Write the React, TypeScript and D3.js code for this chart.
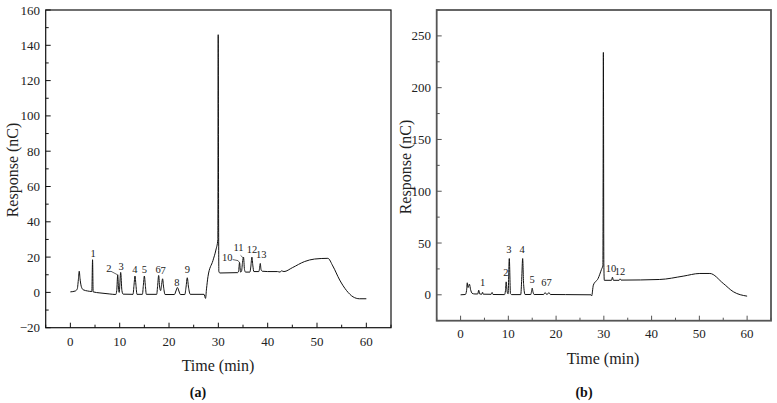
import React from "react";
import * as d3 from "d3";

// Panel (a)
const timeA = [0, 1.0, 1.4, 1.65, 1.8, 1.95, 2.2, 2.6, 3.5, 4.35, 4.5, 4.62, 6, 8, 9.2, 9.4, 9.6, 9.75, 9.9, 10.2, 10.45, 10.7, 12.7, 12.9, 13.1, 13.3, 13.5, 14.6, 14.8, 15.0, 15.2, 15.4, 17.5, 17.7, 17.9, 18.1, 18.3, 18.5, 18.7, 18.9, 19.2, 21.1, 21.4, 21.7, 22.0, 22.3, 23.2, 23.45, 23.7, 23.95, 24.3, 27.1, 27.4, 27.6, 27.9, 28.9, 29.5, 29.9, 29.97, 30.05, 30.1, 30.3, 33.9, 34.1, 34.3, 34.5, 34.7, 34.9, 35.1, 35.3, 35.5, 36.4, 36.6, 36.8, 37.0, 37.2, 38.2, 38.35, 38.5, 38.65, 38.9, 40, 42, 42.5, 42.8, 43.3, 45, 47.5, 49.5, 52.2, 53.2, 54.6, 56, 57.3, 58.6, 60];
const respA = [0.3, 0.8, 2, 8, 12, 8, 3.5, 1.5, 0.8, 0.5, 18.5, 0.3, -0.3, -0.9, -1.2, 1, 10, 3, 0, 11.3, 1, -1, -1.1, 4, 9.3, 4, -1.1, -1.1, 4, 9.3, 4, -1.1, -1.1, 4, 9.6, 3, 1, 4.5, 7.7, 3, -1.2, -1.2, 0.8, 2.8, 0.8, -1.2, -1.2, 3, 8.3, 3, -1.1, -1.1, -3.4, 2, 9, 18, 24, 30, 146, 42, 12, 11, 11.2, 12, 17, 11.5, 12, 17, 20, 13, 11.5, 11.5, 15, 20, 15, 11.8, 11.8, 13.5, 16.4, 13, 12, 11.8, 11.8, 11.5, 12.2, 11.8, 14, 17.5, 18.9, 19.3, 15, 7, 1, -2.5, -3.6, -3.6];
const labelNamesA = ["1", "2", "3", "4", "5", "6", "7", "8", "9", "10", "11", "12", "13"];
const labelTA = [4.6, 7.8, 10.3, 13.1, 15.0, 17.8, 18.8, 21.6, 23.7, 31.8, 34.1, 36.8, 38.7];
const labelVA = [20.2, 11.7, 12.7, 10.8, 10.8, 11.2, 10.6, 3.6, 11.2, 18, 23.4, 22.2, 19.5];
// leader lines (a): [t1, v1, t2, v2]
const leaderA = [
  [8.2, 12.0, 9.55, 10.0],
  [32.9, 18.6, 34.0, 18.0],
  [34.0, 18.0, 34.3, 16.8],
  [34.5, 21.0, 35.05, 19.5],
];
const xTicks = [0, 10, 20, 30, 40, 50, 60];
const xMinor = [-5, 5, 15, 25, 35, 45, 55, 65];
const yTicksA = [-20, 0, 20, 40, 60, 80, 100, 120, 140, 160];
const yMinorA = [-10, 10, 30, 50, 70, 90, 110, 130, 150];

// Panel (b)
const timeB = [0, 1.0, 1.25, 1.4, 1.55, 1.7, 1.85, 2.1, 2.4, 3.0, 3.6, 3.8, 4.0, 4.45, 4.6, 4.75, 6.4, 6.6, 6.8, 9.2, 9.4, 9.55, 9.75, 9.95, 10.2, 10.45, 10.7, 12.6, 12.8, 13.0, 13.2, 13.5, 14.7, 14.85, 15.0, 15.15, 15.4, 17.4, 17.7, 17.95, 18.2, 18.5, 18.8, 22, 27.3, 27.45, 27.8, 28.8, 29.5, 29.8, 29.9, 30.0, 30.1, 31.6, 31.8, 32.0, 33.2, 33.4, 33.6, 41.7, 46.6, 50.1, 52.2, 55, 57.1, 60];
const respB = [0, 0.3, 4, 11.6, 7, 8.5, 10.3, 5, 1.5, 0.8, 0.8, 4.5, 0.8, 0.6, 2.5, 0.6, 0.5, 2.3, 0.3, 0.2, 4, 12.5, 3, 1, 35, 1, 0.2, 0.2, 15, 35, 10, 0.3, 0.3, 3, 6.4, 3, 0.3, 0.3, 2.2, 0.6, 0.6, 2.2, 0.3, 0.2, 0, -1, 9.3, 15.8, 24.5, 28.6, 234, 30, 14, 14, 17, 14, 14, 15.4, 14.2, 14.8, 18, 20.6, 20.6, 11, 3, -1.3];
const labelNamesB = ["1", "2", "3", "4", "5", "67", "10", "12"];
const labelTB = [4.6, 9.48, 10.1, 12.9, 15.0, 18.0, 31.5, 33.4];
const labelVB = [8.7, 18, 40, 40, 11, 8.4, 22, 19.6];
const yTicksB = [0, 50, 100, 150, 200, 250];
const yMinorB = [-25, 25, 75, 125, 175, 225, 275];

const FONT = "'Liberation Serif', 'Times New Roman', serif";

type PanelProps = {
  left: number; right: number; top: number; bottom: number;
  yDomain: [number, number];
  times: number[]; resp: number[];
  names: string[]; lt: number[]; lv: number[];
  leaders: number[][];
  yTicks: number[]; yMinor: number[];
  frameColor: string; frameWidth: number;
  tickLabelY: number; titleY: number; titleX: number;
  yTitleX: number; yTitleY: number; yLabelX: number;
  tag: string; tagX: number;
};

function Panel(p: PanelProps) {
  const x = d3.scaleLinear().domain([-5, 65]).range([p.left, p.right]);
  const y = d3.scaleLinear().domain(p.yDomain).range([p.bottom, p.top]);
  const pts: [number, number][] = p.times.map((t, i) => [t, p.resp[i]]);
  const line = d3.line<[number, number]>().x(d => x(d[0])).y(d => y(d[1])).curve(d3.curveMonotoneX);
  return (
    <g>
      <path d={line(pts) || ""} fill="none" stroke="#111" strokeWidth={1} />
      {p.leaders.map((l, i) => (
        <line key={"ld" + i} x1={x(l[0])} y1={y(l[1])} x2={x(l[2])} y2={y(l[3])} stroke="#222" strokeWidth={0.7} />
      ))}
      {p.names.map((n, i) => (
        <text key={"lb" + i} x={x(p.lt[i])} y={y(p.lv[i])} textAnchor="middle" fontSize={10.5} fontFamily={FONT} fill="#222">{n}</text>
      ))}
      <rect x={p.left} y={p.top} width={p.right - p.left} height={p.bottom - p.top} fill="none" stroke={p.frameColor} strokeWidth={p.frameWidth} />
      {xTicks.map(t => (
        <g key={"xt" + t}>
          <line x1={x(t)} x2={x(t)} y1={p.bottom} y2={p.bottom - 5} stroke={p.frameColor} strokeWidth={1} />
          <text x={x(t)} y={p.tickLabelY} textAnchor="middle" fontSize={13} fontFamily={FONT} fill="#222">{t}</text>
        </g>
      ))}
      {xMinor.map(t => (
        <line key={"xm" + t} x1={x(t)} x2={x(t)} y1={p.bottom} y2={p.bottom - 3} stroke={p.frameColor} strokeWidth={1} />
      ))}
      {p.yTicks.map(t => (
        <g key={"yt" + t}>
          <line x1={p.left} x2={p.left + 5} y1={y(t)} y2={y(t)} stroke={p.frameColor} strokeWidth={1} />
          <text x={p.yLabelX} y={y(t) + 4.5} textAnchor="end" fontSize={13} fontFamily={FONT} fill="#222">{t < 0 ? "\u2212" + Math.abs(t) : t}</text>
        </g>
      ))}
      {p.yMinor.map(t => (
        <line key={"ym" + t} x1={p.left} x2={p.left + 3} y1={y(t)} y2={y(t)} stroke={p.frameColor} strokeWidth={1} />
      ))}
      <text x={p.titleX} y={p.titleY} textAnchor="middle" fontSize={16} fontFamily={FONT} fill="#222">Time (min)</text>
      <text transform={`translate(${p.yTitleX},${p.yTitleY}) rotate(-90)`} textAnchor="middle" fontSize={16} fontFamily={FONT} fill="#222">Response (nC)</text>
      <text x={p.tagX} y={397} textAnchor="middle" fontSize={14} fontWeight="bold" fontFamily={FONT} fill="#111">
        ({p.tag})
      </text>
    </g>
  );
}

export default function App() {
  return (
    <svg width={777} height={403} style={{ position: "absolute", left: 0, top: 0, background: "#fff" }}>
      <rect width={777} height={403} fill="#fff" />
      <Panel left={45.7} right={391} top={10} bottom={327.7} yDomain={[-20, 160]}
        times={timeA} resp={respA} names={labelNamesA} lt={labelTA} lv={labelVA} leaders={leaderA}
        yTicks={yTicksA} yMinor={yMinorA} frameColor="#111" frameWidth={1.2}
        tickLabelY={346} titleY={371} titleX={218} yTitleX={18} yTitleY={170} yLabelX={40}
        tag="a" tagX={198} />
      <Panel left={436.7} right={771} top={10} bottom={320.7} yDomain={[-25, 275]}
        times={timeB} resp={respB} names={labelNamesB} lt={labelTB} lv={labelVB} leaders={[]}
        yTicks={yTicksB} yMinor={yMinorB} frameColor="#555" frameWidth={1.8}
        tickLabelY={338} titleY={364} titleX={603} yTitleX={411} yTitleY={167} yLabelX={431}
        tag="b" tagX={584} />
    </svg>
  );
}
